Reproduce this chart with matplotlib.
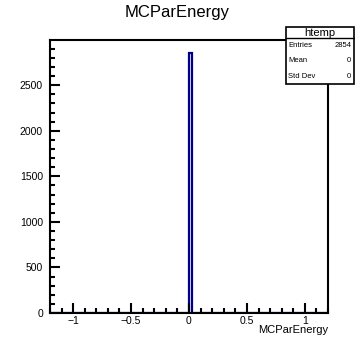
import numpy as np
import matplotlib.pyplot as plt
from matplotlib.ticker import MultipleLocator

plt.rcParams['font.family'] = ['Liberation Sans', 'DejaVu Sans']

# histogram data (ROOT htemp, all entries in bin at 0)
bin_edges = np.linspace(-1.2, 1.2, 101)
counts = np.zeros(100)
counts[50] = 2854
title = "MCParEnergy"
xticks = [-1, -0.5, 0, 0.5, 1]
xtick_labels = ["\u22121", "\u22120.5", "0", "0.5", "1"]
stats_labels = ["Entries", "Mean", "Std Dev"]
stats_values = ["2854", "0", "0"]

W, H = 355, 339
fig = plt.figure(figsize=(W / 100, H / 100), dpi=100)
ax = fig.add_axes([50 / W, 1 - 313 / H, (328 - 50) / W, (313 - 40) / H])

ax.stairs(counts, bin_edges, color="#00008b", linewidth=1.6)

ax.set_xlim(-1.2, 1.2)
ax.set_ylim(0, counts.max() * 1.05)
ax.xaxis.set_major_locator(MultipleLocator(0.5))
ax.xaxis.set_minor_locator(MultipleLocator(0.1))
ax.yaxis.set_major_locator(MultipleLocator(500))
ax.yaxis.set_minor_locator(MultipleLocator(100))
ax.tick_params(which="both", direction="in", top=False, right=False,
               labelsize=7.5, width=1.5)
ax.tick_params(axis="y", pad=5)
ax.tick_params(which="major", length=7)
ax.tick_params(which="minor", length=3.5)
ax.set_xticks(xticks)
ax.set_xticklabels(xtick_labels)
ax.tick_params(axis="x", pad=2)
for s in ax.spines.values():
    s.set_linewidth(1.5)

ax.set_xlabel("MCParEnergy", fontsize=8)
ax.xaxis.set_label_coords(1.0, -0.045)
ax.xaxis.label.set_horizontalalignment("right")

fig.text(0.5, 1 - 12 / H, title, ha="center", va="center", fontsize=12)

# stats box
bx0, bx1 = 286 / W, 354 / W
by1, by0 = 1 - 27 / H, 1 - 84 / H
hy = 1 - 38 / H
fig.patches.append(plt.Rectangle((bx0, by0), bx1 - bx0, by1 - by0, transform=fig.transFigure,
                                 facecolor="white", edgecolor="black", linewidth=1.2, zorder=5))
fig.lines.append(plt.Line2D([bx0, bx1], [hy, hy], transform=fig.transFigure, color="black",
                            linewidth=1.0, zorder=6))
fig.text((bx0 + bx1) / 2, (by1 + hy) / 2, "htemp", ha="center", va="center", fontsize=8, zorder=7)
row_h = (hy - by0) / 3
for i, (lab, val) in enumerate(zip(stats_labels, stats_values)):
    yy = hy - row_h * (i + 0.5)
    fig.text(bx0 + 0.006, yy, lab, ha="left", va="center", fontsize=5.5, zorder=7)
    fig.text(bx1 - 0.008, yy, val, ha="right", va="center", fontsize=5.5, zorder=7)

fig.savefig("out.png", dpi=100)
